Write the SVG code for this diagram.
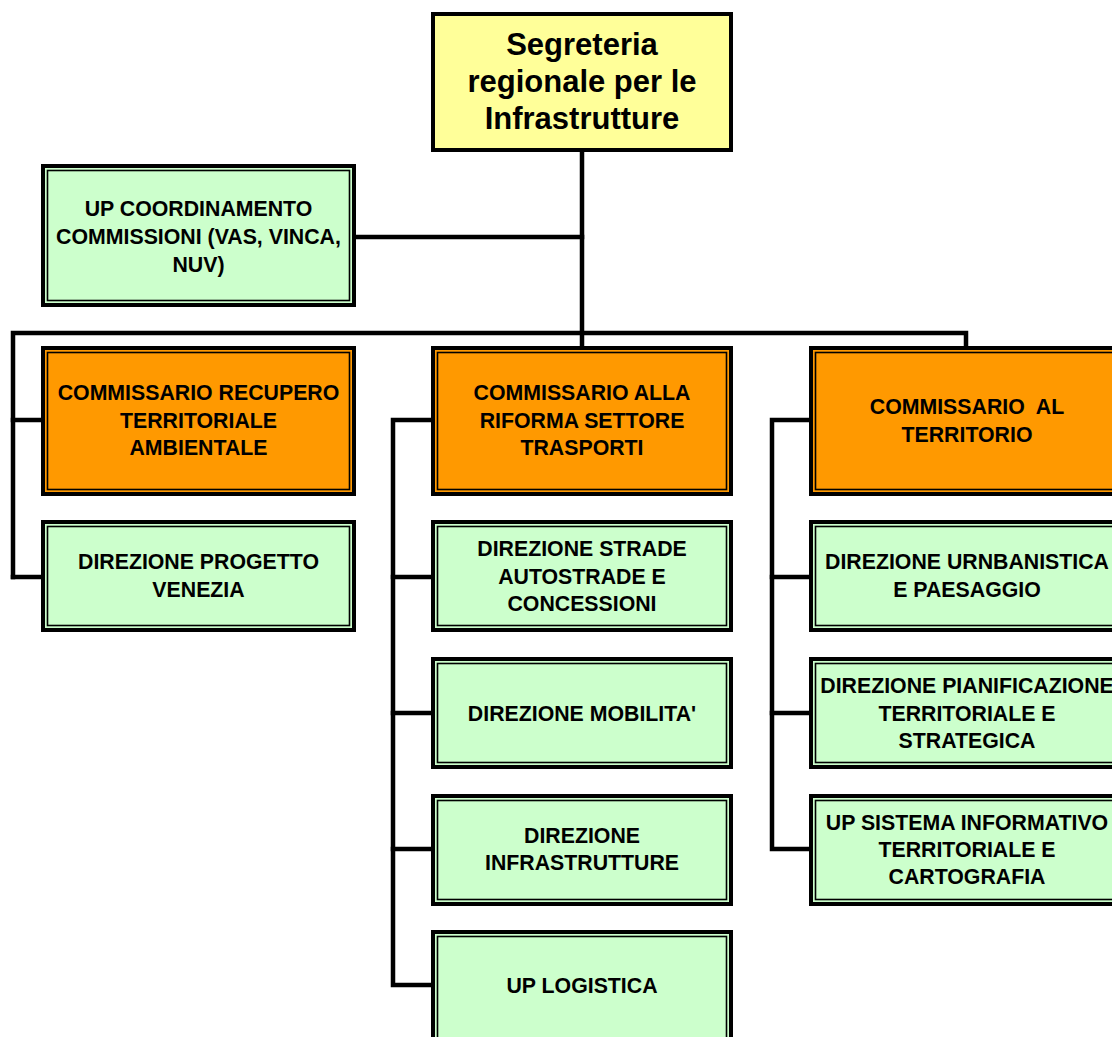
<svg xmlns="http://www.w3.org/2000/svg" width="1112" height="1037" viewBox="0 0 1112 1037">
  <style>
    .outer { fill: none; stroke: #000; stroke-width: 4; }
    .inner { fill: none; stroke: #000; stroke-width: 1.6; }
    .green { fill: #CCFFCC; }
    .orange { fill: #FF9900; }
    .yellow { fill: #FFFF99; stroke: #000; stroke-width: 4; }
    .lbl { font-family: "Liberation Sans", Arial, sans-serif; font-weight: bold; font-size: 21.3px; fill: #000; text-anchor: middle; white-space: pre; }
    .title { font-family: "Liberation Sans", Arial, sans-serif; font-weight: bold; font-size: 31px; fill: #000; text-anchor: middle; }
    .wire { fill: none; stroke: #000; stroke-width: 4.5; stroke-linejoin: miter; stroke-linecap: square; }
  </style>
  <rect width="1112" height="1037" fill="#fff"/>

  <!-- connectors -->
  <g id="connectors">
    <polyline class="wire" points="582,152 582,346"/>
    <polyline class="wire" points="356,237 582,237"/>
    <polyline class="wire" points="13,577 13,333 966,333 966,346"/>
    <polyline class="wire" points="13,420 41,420"/>
    <polyline class="wire" points="13,577 41,577"/>
    <polyline class="wire" points="431,420 393,420 393,985 431,985"/>
    <polyline class="wire" points="393,577 431,577"/>
    <polyline class="wire" points="393,713 431,713"/>
    <polyline class="wire" points="393,849 431,849"/>
    <polyline class="wire" points="809,420 772,420 772,849 809,849"/>
    <polyline class="wire" points="772,577 809,577"/>
    <polyline class="wire" points="772,713 809,713"/>
  </g>

  <!-- top node -->
  <g id="segreteria">
    <rect x="433" y="14" width="298" height="136" class="yellow"/>
    <text class="title" x="582" y="55">Segreteria</text>
    <text class="title" x="582" y="92">regionale per le</text>
    <text class="title" x="582" y="129">Infrastrutture</text>
  </g>

  <g id="up-coordinamento">
    <rect x="41" y="164" width="315" height="143" class="green"/>
    <rect x="43" y="166" width="311" height="139" class="outer"/>
    <rect x="47.5" y="170.5" width="302" height="130" class="inner"/>
    <text class="lbl" x="198.5" y="215.5">UP COORDINAMENTO</text>
    <text class="lbl" x="198.5" y="243.5">COMMISSIONI (VAS, VINCA,</text>
    <text class="lbl" x="198.5" y="271.5">NUV)</text>
  </g>

  <!-- left column -->
  <g id="commissario-recupero">
    <rect x="41" y="346" width="315" height="150" class="orange"/>
    <rect x="43" y="348" width="311" height="146" class="outer"/>
    <rect x="47.5" y="352.5" width="302" height="137" class="inner"/>
    <text class="lbl" x="198.5" y="399.5">COMMISSARIO RECUPERO</text>
    <text class="lbl" x="198.5" y="427.5">TERRITORIALE</text>
    <text class="lbl" x="198.5" y="454.5">AMBIENTALE</text>
  </g>
  <g id="direzione-venezia">
    <rect x="41" y="520" width="315" height="112" class="green"/>
    <rect x="43" y="522" width="311" height="108" class="outer"/>
    <rect x="47.5" y="526.5" width="302" height="99" class="inner"/>
    <text class="lbl" x="198.5" y="568.5">DIREZIONE PROGETTO</text>
    <text class="lbl" x="198.5" y="596.5">VENEZIA</text>
  </g>

  <!-- middle column -->
  <g id="commissario-trasporti">
    <rect x="431" y="346" width="302" height="150" class="orange"/>
    <rect x="433" y="348" width="298" height="146" class="outer"/>
    <rect x="437.5" y="352.5" width="289" height="137" class="inner"/>
    <text class="lbl" x="582" y="399.5">COMMISSARIO ALLA</text>
    <text class="lbl" x="582" y="427.5">RIFORMA SETTORE</text>
    <text class="lbl" x="582" y="454.5">TRASPORTI</text>
  </g>
  <g id="direzione-strade">
    <rect x="431" y="520" width="302" height="112" class="green"/>
    <rect x="433" y="522" width="298" height="108" class="outer"/>
    <rect x="437.5" y="526.5" width="289" height="99" class="inner"/>
    <text class="lbl" x="582" y="555.5">DIREZIONE STRADE</text>
    <text class="lbl" x="582" y="583.5">AUTOSTRADE E</text>
    <text class="lbl" x="582" y="610.5">CONCESSIONI</text>
  </g>
  <g id="direzione-mobilita">
    <rect x="431" y="657" width="302" height="112" class="green"/>
    <rect x="433" y="659" width="298" height="108" class="outer"/>
    <rect x="437.5" y="663.5" width="289" height="99" class="inner"/>
    <text class="lbl" x="582" y="720.5">DIREZIONE MOBILITA'</text>
  </g>
  <g id="direzione-infrastrutture">
    <rect x="431" y="794" width="302" height="112" class="green"/>
    <rect x="433" y="796" width="298" height="108" class="outer"/>
    <rect x="437.5" y="800.5" width="289" height="99" class="inner"/>
    <text class="lbl" x="582" y="842.5">DIREZIONE</text>
    <text class="lbl" x="582" y="869.5">INFRASTRUTTURE</text>
  </g>
  <g id="up-logistica">
    <rect x="431" y="930" width="302" height="120" class="green"/>
    <rect x="433" y="932" width="298" height="116" class="outer"/>
    <rect x="437.5" y="936.5" width="289" height="107" class="inner"/>
    <text class="lbl" x="582" y="992.5">UP LOGISTICA</text>
  </g>

  <!-- right column -->
  <g id="commissario-territorio">
    <rect x="809" y="346" width="315" height="150" class="orange"/>
    <rect x="811" y="348" width="311" height="146" class="outer"/>
    <rect x="815.5" y="352.5" width="302" height="137" class="inner"/>
    <text class="lbl" x="967" y="413.5">COMMISSARIO  AL</text>
    <text class="lbl" x="967" y="441.5">TERRITORIO</text>
  </g>
  <g id="direzione-urbanistica">
    <rect x="809" y="520" width="315" height="112" class="green"/>
    <rect x="811" y="522" width="311" height="108" class="outer"/>
    <rect x="815.5" y="526.5" width="302" height="99" class="inner"/>
    <text class="lbl" x="967" y="568.5">DIREZIONE URNBANISTICA</text>
    <text class="lbl" x="967" y="596.5">E PAESAGGIO</text>
  </g>
  <g id="direzione-pianificazione">
    <rect x="809" y="657" width="315" height="112" class="green"/>
    <rect x="811" y="659" width="311" height="108" class="outer"/>
    <rect x="815.5" y="663.5" width="302" height="99" class="inner"/>
    <text class="lbl" x="967" y="692.5">DIREZIONE PIANIFICAZIONE</text>
    <text class="lbl" x="967" y="720.5">TERRITORIALE E</text>
    <text class="lbl" x="967" y="747.5">STRATEGICA</text>
  </g>
  <g id="up-sistema-informativo">
    <rect x="809" y="794" width="315" height="112" class="green"/>
    <rect x="811" y="796" width="311" height="108" class="outer"/>
    <rect x="815.5" y="800.5" width="302" height="99" class="inner"/>
    <text class="lbl" x="967" y="829.5">UP SISTEMA INFORMATIVO</text>
    <text class="lbl" x="967" y="856.5">TERRITORIALE E</text>
    <text class="lbl" x="967" y="883.5">CARTOGRAFIA</text>
  </g>
</svg>
